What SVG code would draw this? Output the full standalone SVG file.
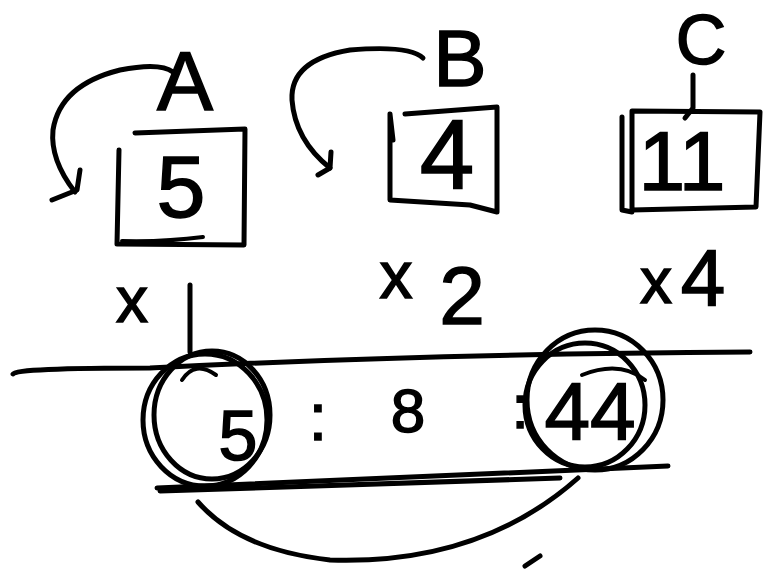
<svg xmlns="http://www.w3.org/2000/svg" width="764" height="569" viewBox="0 0 764 569">
<style>
.s{fill:none;stroke:#000;stroke-width:5;stroke-linecap:round;stroke-linejoin:round}
.t{fill:none;stroke:#000;stroke-width:4;stroke-linecap:round}
.h{font-family:"Liberation Sans",Arial,sans-serif;fill:#000;stroke:#000;stroke-width:1.5;text-anchor:middle}
</style>
<rect width="764" height="569" fill="#fff"/>
<g id="nodeA">
<path class="s" d="M135,133 L245,129 L244,245 L118,244 M119,150 L117,244"/>
<path class="t" d="M122,241 Q165,242 203,237"/>
<text class="h" x="181" y="217" font-size="88">5</text>
<text class="h" x="185" y="110" font-size="84">A</text>
</g>
<g id="nodeB">
<path class="s" d="M405,114 L497,107 L497,212 L470,205 L390,200 L390,114 M390,114 L393,140"/>
<text class="h" x="447" y="188" font-size="98">4</text>
<text class="h" x="460" y="86" font-size="80">B</text>
<text class="h" x="396" y="298" font-size="66">x</text>
<text class="h" x="462" y="324" font-size="82">2</text>
</g>
<g id="nodeC">
<path class="s" d="M632,111 L760,112 L756,207 L632,210 Z M622,117 L622,210 L632,212"/>
<path class="s" d="M693,75 L693,108 L685,118"/>
<text class="h" x="682" y="190" font-size="84">11</text>
<text class="h" x="701" y="64" font-size="70">C</text>
<text class="h" x="656" y="303" font-size="64">x</text>
<text class="h" x="703" y="305" font-size="80">4</text>
</g>
<g id="nodeX">
<text class="h" x="132" y="322" font-size="64">x</text>
<path class="s" d="M190,285 L190,352"/>
</g>
<g id="row">
<path class="s" d="M13,374 Q15,368 150,368 Q420,354 750,352"/>
<path class="s" d="M157,488 Q400,478 668,466"/>
<path class="s" d="M160,491 Q400,484 560,478"/>
<ellipse class="s" cx="205" cy="420" rx="62" ry="66"/>
<ellipse class="s" cx="212" cy="415" rx="58" ry="64"/>
<path class="t" d="M182,380 Q195,360 216,375"/>
<ellipse class="s" cx="595" cy="400" rx="68" ry="70"/>
<ellipse class="s" cx="585" cy="405" rx="60" ry="62"/>
<path class="t" d="M582,375 Q620,360 645,380"/>
<text class="h" x="238" y="460" font-size="70">5</text>
<text class="h" x="318" y="440" font-size="66">:</text>
<text class="h" x="408" y="432" font-size="62">8</text>
<text class="h" x="520" y="428" font-size="62">:</text>
<text class="h" x="590" y="440" font-size="82">44</text>
</g>
<g id="connectors">
<path class="s" d="M173,72 Q160,62 120,70 Q60,85 53,130 Q50,160 75,192"/>
<path class="s" d="M80,170 L77,190 L52,200"/>
<path class="s" d="M423,58 Q410,45 350,50 Q290,60 292,100 Q295,140 330,168"/>
<path class="s" d="M331,152 L330,168 L318,175"/>
<path class="s" d="M198,502 Q240,550 330,560 Q480,565 578,478"/>
<path class="s" d="M525,566 L540,556"/>
</g>
</svg>
